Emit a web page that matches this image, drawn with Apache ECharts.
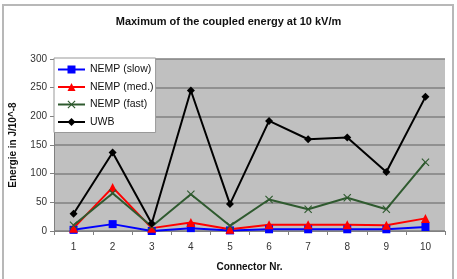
<!DOCTYPE html>
<html lang="en">
  <head>
    <meta charset="UTF-8" />
    <title>Maximum of the coupled energy at 10 kV/m</title>
    <script src="https://cdn.jsdelivr.net/npm/echarts@6/dist/echarts.min.js"></script>
    <style>
      html, body { margin: 0; padding: 0; background: #fff; }
      #app { width: 457px; height: 279px; }
    </style>
  </head>
  <body>
    <div id="app"></div>
    <script>
      const connectors = ["1", "2", "3", "4", "5", "6", "7", "8", "9", "10"];
      const nempSlow = [2, 12, 0, 5, 1, 3, 3, 3, 3, 7];
      const nempMed = [5, 76, 5, 15, 3, 11, 11, 11, 10, 22];
      const nempFast = [10, 66, 8, 64, 9, 55, 38, 58, 38, 120];
      const uwb = [30, 137, 13, 245, 47, 192, 160, 163, 103, 234];

      const crossSymbol =
        "path://M0,1 L1,0 L5,4 L9,0 L10,1 L6,5 L10,9 L9,10 L5,6 L1,10 L0,9 L4,5Z";

      const font = "Liberation Sans, Arial, sans-serif";

      function line(name, data, color, symbol, size) {
        return {
          name: name,
          type: "line",
          data: data,
          symbol: symbol,
          symbolSize: size,
          lineStyle: { color: color, width: 2 },
          itemStyle: { color: color },
        };
      }

      const chart = echarts.init(document.getElementById("app"));

      chart.setOption({
        animation: false,
        textStyle: { fontFamily: font },
        graphic: [
          {
            type: "rect",
            shape: { x: 3, y: 5, width: 450, height: 290 },
            style: { fill: "none", stroke: "#b8b8b8", lineWidth: 2 },
            z: -1,
          },
        ],
        title: {
          text: "Maximum of the coupled energy at 10 kV/m",
          left: "center",
          top: 11,
          textStyle: { fontSize: 11, fontWeight: "bold", color: "#111" },
        },
        legend: {
          orient: "vertical",
          left: 54,
          top: 58,
          itemGap: 6.5,
          itemWidth: 27,
          itemHeight: 10,
          padding: [6, 2, 5, 3],
          backgroundColor: "#fff",
          borderColor: "#999",
          borderWidth: 1,
          textStyle: { fontSize: 10.5, color: "#111" },
        },
        grid: { left: 54, right: 12, top: 59, bottom: 48 },
        xAxis: {
          type: "category",
          data: connectors,
          name: "Connector Nr.",
          nameLocation: "middle",
          nameGap: 31,
          nameTextStyle: { fontSize: 10, fontWeight: "bold", color: "#111" },
          axisLine: { lineStyle: { color: "#808080" } },
          axisTick: { show: true, inside: false, length: 4, lineStyle: { color: "#808080" } },
          axisLabel: { fontSize: 10, color: "#333", margin: 11 },
        },
        yAxis: {
          type: "value",
          min: 0,
          max: 300,
          interval: 50,
          name: "Energie in J/10^-8",
          nameLocation: "middle",
          nameGap: 36,
          nameTextStyle: { fontSize: 10, fontWeight: "bold", color: "#111" },
          axisLine: { show: true, lineStyle: { color: "#808080" } },
          axisTick: { show: true, length: 4, lineStyle: { color: "#808080" } },
          axisLabel: { fontSize: 10, color: "#333", margin: 7 },
          splitLine: { lineStyle: { color: "#808080", width: 1.5 } },
          splitArea: { show: true, areaStyle: { color: ["#c0c0c0", "#c0c0c0"] } },
        },
        series: [
          line("NEMP (slow)", nempSlow, "#0000ff", "rect", 8),
          line("NEMP (med.)", nempMed, "#ff0000", "triangle", 9),
          line("NEMP (fast)", nempFast, "#2f5a2f", crossSymbol, 8),
          line("UWB", uwb, "#000000", "diamond", 8),
        ],
      });
    </script>
  </body>
</html>
